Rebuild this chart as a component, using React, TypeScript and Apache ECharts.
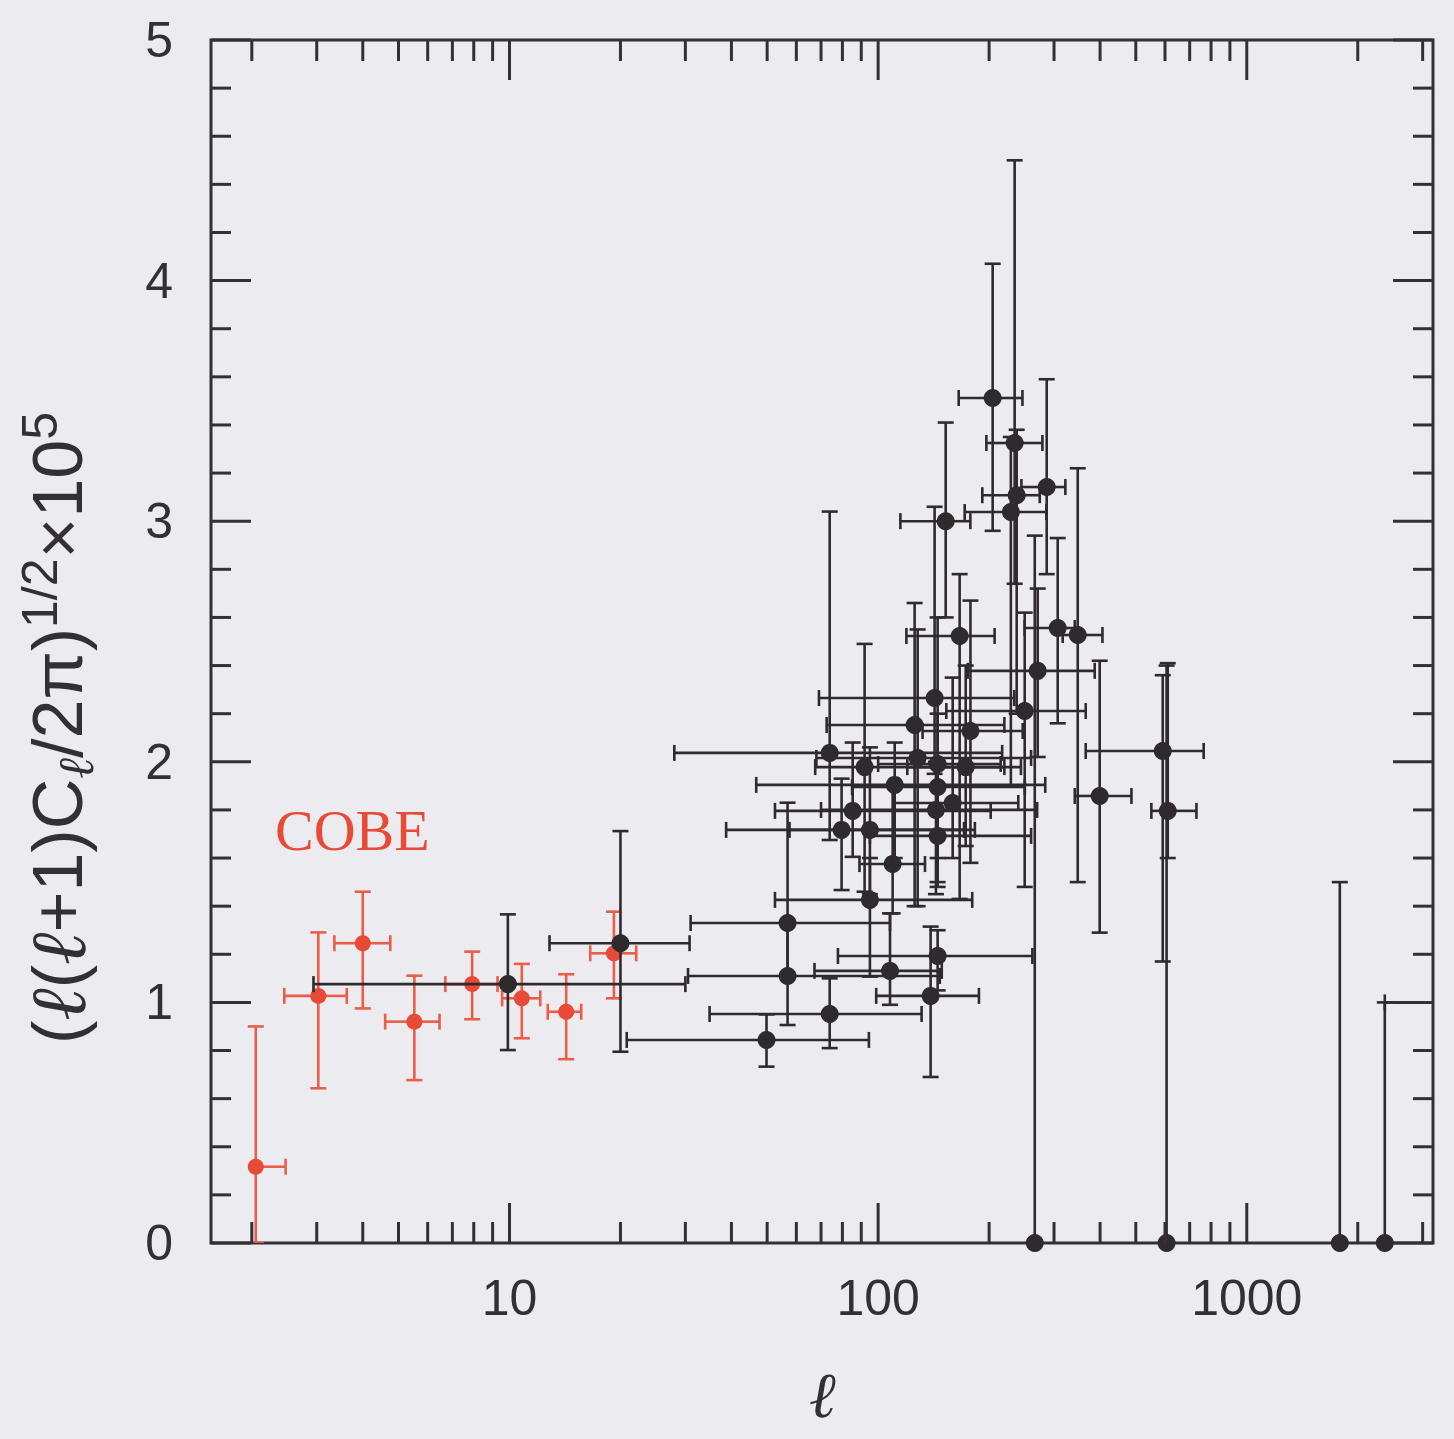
import React, { useEffect, useRef } from 'react';
import * as echarts from 'echarts';

const BG = '#ecebf0';
const INK = '#333033';
const RED = '#e84a38';
const RED_BAR = '#ea5e48';
const BLACK = '#2e2a2e';

const X_MIN = 1.55;
const X_MAX = 3200;
const Y_MIN = 0;
const Y_MAX = 5;

const xTickMajor = [10, 100, 1000];
const xTickMinor = [2, 3, 4, 5, 6, 7, 8, 9, 20, 30, 40, 50, 60, 70, 80, 90, 200, 300, 400, 500, 600, 700, 800, 900, 2000, 3000];
const yTickMajor = [0, 1, 2, 3, 4, 5];
const yTickMinor = [0.2, 0.4, 0.6, 0.8, 1.2, 1.4, 1.6, 1.8, 2.2, 2.4, 2.6, 2.8, 3.2, 3.4, 3.6, 3.8, 4.2, 4.4, 4.6, 4.8];

// [l, value, lLow, lHigh, valueLow, valueHigh]
const cobeData: (number | null)[][] = [
  [2.05, 0.317, null, 2.47, 0.0, 0.9],
  [3.03, 1.027, 2.45, 3.62, 0.643, 1.291],
  [4.0, 1.246, 3.35, 4.75, 0.975, 1.46],
  [5.52, 0.92, 4.6, 6.46, 0.677, 1.111],
  [7.92, 1.076, 6.7, 9.28, 0.93, 1.211],
  [10.8, 1.017, 9.55, 12.12, 0.851, 1.16],
  [14.25, 0.961, 12.7, 15.65, 0.764, 1.117],
  [19.2, 1.204, 16.56, 22.07, 1.017, 1.377],
];

const otherData: (number | null)[][] = [
  [9.9, 1.076, 2.94, 30.0, 0.802, 1.366],
  [20.0, 1.246, 12.84, 30.8, 0.795, 1.712],
  [49.8, 0.844, 20.8, 94.4, 0.733, 0.95],
  [73.9, 0.952, 34.9, 131.2, 0.81, 1.1],
  [56.8, 1.11, 30.5, 147, 0.906, 1.33],
  [56.8, 1.33, 31.0, 107.7, 1.11, 1.83],
  [95.0, 1.426, 52.5, 180, 1.107, 1.6],
  [107.7, 1.131, 67.2, 148.8, 0.99, 1.37],
  [109.5, 1.575, 89, 134, 1.37, 1.9],
  [138.8, 1.027, 98.8, 187.7, 0.69, 1.315],
  [145, 1.193, 77.8, 262, 1.05, 1.3],
  [73.9, 2.037, 28.0, 217, 1.675, 3.04],
  [91.9, 1.978, 67.5, 244, 1.46, 2.49],
  [85.3, 1.796, 52.5, 202, 1.605, 2.08],
  [79.6, 1.717, 38.7, 171, 1.467, 1.93],
  [95.0, 1.717, 57.5, 183, 1.45, 2.06],
  [110.9, 1.904, 46.7, 284, 1.6, 2.08],
  [125.6, 2.153, 72.5, 220, 1.4, 2.66],
  [128, 2.016, 68, 260, 1.4, 2.55],
  [142.3, 2.265, 69.1, 234, 1.95, 3.06],
  [145, 1.991, 100, 215, 1.5, 2.6],
  [145, 1.895, 85, 250, 1.6, 2.2],
  [143.5, 1.8, 70, 270, 1.45, 2.0],
  [145, 1.692, 95, 260, 1.48, 1.9],
  [159.3, 1.829, 110, 240, 1.6, 2.35],
  [166.4, 2.523, 119.3, 207, 1.43, 2.78],
  [178, 2.128, 132, 246.7, 1.58, 2.67],
  [172.8, 1.978, 120, 220, 1.65, 2.4],
  [152.5, 3.0, 114.9, 177.9, 2.6, 3.41],
  [204.5, 3.512, 165.4, 246.3, 2.96, 4.07],
  [234.6, 3.325, 196.6, 279, 2.74, 4.5],
  [286.6, 3.142, 244.7, 322, 2.78, 3.59],
  [237.6, 3.108, 191.7, 274.4, 2.2, 3.38],
  [229.1, 3.038, 171.7, 286, 1.9, 3.35],
  [307, 2.556, 249.8, 341.5, 2.16, 2.93],
  [347.9, 2.527, 316.7, 406, 1.5, 3.22],
  [270.9, 2.378, 175, 386.8, 2.02, 2.72],
  [249.8, 2.211, 153.1, 365.7, 1.48, 2.62],
  [399, 1.858, 341.5, 486.6, 1.29, 2.42],
  [591.6, 2.045, 365.7, 764, 1.17, 2.36],
  [610.4, 1.796, 551, 730.3, 1.6, 2.41],
  [266, 0, null, null, null, 2.94],
  [606, 0, null, null, null, 2.4],
  [1788, 0, null, null, null, 1.5],
  [2368, 0, null, null, null, 1.0],
];

// bar of a point lying beyond the right edge of the plot
const offPlotData: (number | null)[][] = [[5000, 1.0, 2368, null, null, null]];

const makeBarRender = (rows: (number | null)[][], color: string) => (params: any, api: any) => {
  const d = rows[params.dataIndex];
  const [l, v, lLo, lHi, vLo, vHi] = d as any[];
  const cap = 8;
  const style = { stroke: color, lineWidth: 2.6 };
  const c = api.coord([l, v]);
  const children: any[] = [];
  const ln = (x1: number, y1: number, x2: number, y2: number) => ({
    type: 'line',
    shape: { x1, y1, x2, y2 },
    style,
  });
  if (lLo != null) {
    const p = api.coord([lLo, v]);
    children.push(ln(p[0], c[1], c[0], c[1]), ln(p[0], c[1] - cap, p[0], c[1] + cap));
  }
  if (lHi != null) {
    const p = api.coord([lHi, v]);
    children.push(ln(c[0], c[1], p[0], c[1]), ln(p[0], c[1] - cap, p[0], c[1] + cap));
  }
  if (vLo != null) {
    const p = api.coord([l, vLo]);
    children.push(ln(c[0], c[1], c[0], p[1]), ln(c[0] - cap, p[1], c[0] + cap, p[1]));
  }
  if (vHi != null) {
    const p = api.coord([l, vHi]);
    children.push(ln(c[0], p[1], c[0], c[1]), ln(c[0] - cap, p[1], c[0] + cap, p[1]));
  }
  return { type: 'group', children };
};

const tickStyle = { stroke: INK, lineWidth: 3 };

const xTickData = [
  ...xTickMajor.map((v) => [v, 0, 1]),
  ...xTickMinor.map((v) => [v, 0, 0]),
];
const yTickData = [
  ...yTickMajor.map((v) => [10, v, 1]),
  ...yTickMinor.map((v) => [10, v, 0]),
];

const renderXTick = (params: any, api: any) => {
  const cs = params.coordSys;
  const x = api.coord([api.value(0), 0])[0];
  const len = api.value(2) ? 40 : 21;
  const bottom = cs.y + cs.height;
  return {
    type: 'group',
    children: [
      { type: 'line', shape: { x1: x, y1: bottom, x2: x, y2: bottom - len }, style: tickStyle },
      { type: 'line', shape: { x1: x, y1: cs.y, x2: x, y2: cs.y + len }, style: tickStyle },
    ],
  };
};

const renderYTick = (params: any, api: any) => {
  const cs = params.coordSys;
  const y = api.coord([10, api.value(1)])[1];
  const len = api.value(2) ? 40 : 20;
  const right = cs.x + cs.width;
  return {
    type: 'group',
    children: [
      { type: 'line', shape: { x1: cs.x, y1: y, x2: cs.x + len, y2: y }, style: tickStyle },
      { type: 'line', shape: { x1: right - len, y1: y, x2: right, y2: y }, style: tickStyle },
    ],
  };
};

const FONT = '"Liberation Sans", Arial, sans-serif';
const ELL_FONT = '"DejaVu Serif", serif';

export default function App() {
  const ref = useRef<HTMLDivElement>(null);
  useEffect(() => {
    document.body.style.margin = '0';
    document.body.style.background = BG;
    const chart = echarts.init(ref.current!, null, { renderer: 'svg' });
    const option: any = {
      animation: false,
      backgroundColor: BG,
      grid: {
        left: 211,
        top: 40,
        right: 21,
        bottom: 196,
        show: true,
        borderColor: INK,
        borderWidth: 3,
        backgroundColor: 'transparent',
        containLabel: false,
        outerBoundsMode: 'none',
      },
      xAxis: {
        type: 'log',
        logBase: 10,
        min: X_MIN,
        max: X_MAX,
        name: 'ℓ',
        nameLocation: 'middle',
        nameGap: 120,
        nameTextStyle: {
          fontSize: 64,
          fontStyle: 'italic',
          fontFamily: ELL_FONT,
          color: INK,
        },
        axisLine: { show: false },
        axisTick: { show: false },
        splitLine: { show: false },
        minorTick: { show: false },
        axisLabel: {
          margin: 30,
          fontSize: 50,
          fontFamily: FONT,
          color: INK,
          showMinLabel: false,
          showMaxLabel: false,
          formatter: (val: number) => {
            const lg = Math.log10(val);
            return Math.abs(lg - Math.round(lg)) < 1e-6 ? String(Math.round(val)) : '';
          },
        },
      },
      yAxis: {
        type: 'value',
        min: Y_MIN,
        max: Y_MAX,
        interval: 1,
        axisLine: { show: false },
        axisTick: { show: false },
        splitLine: { show: false },
        axisLabel: {
          margin: 38,
          fontSize: 50,
          fontFamily: FONT,
          color: INK,
        },
      },
      graphic: [
        {
          type: 'text',
          x: 275,
          y: 830,
          style: {
            text: 'COBE',
            fontSize: 58,
            fontFamily: '"Liberation Serif", serif',
            fill: RED,
            align: 'left',
            verticalAlign: 'middle',
          },
        },
        {
          type: 'text',
          x: 58,
          y: 728,
          rotation: Math.PI / 2,
          style: {
            text: '({l|ℓ}({l|ℓ}+1)C{sub|ℓ}/2π){sup|1/2}×10{sup|5}',
            fontSize: 70,
            fontFamily: FONT,
            fill: INK,
            align: 'center',
            verticalAlign: 'middle',
            lineHeight: 86,
            rich: {
              l: {
                fontSize: 78,
                fontFamily: ELL_FONT,
                fontStyle: 'italic',
                fill: INK,
                lineHeight: 86,
              },
              sub: {
                fontSize: 50,
                fontFamily: ELL_FONT,
                fontStyle: 'italic',
                fill: INK,
                lineHeight: 48,
                verticalAlign: 'bottom',
              },
              sup: {
                fontSize: 50,
                fontFamily: FONT,
                fill: INK,
                lineHeight: 48,
                verticalAlign: 'top',
              },
            },
          },
        },
      ],
      series: [
        {
          type: 'custom',
          name: 'COBE bars',
          coordinateSystem: 'cartesian2d',
          data: cobeData.map((r) => [r[0], r[1]]),
          encode: { x: 0, y: 1 },
          renderItem: makeBarRender(cobeData, RED_BAR),
          clip: true,
          silent: true,
          z: 2,
        },
        {
          type: 'scatter',
          name: 'COBE',
          data: cobeData.map((r) => [r[0], r[1]]),
          symbol: 'circle',
          symbolSize: 16,
          itemStyle: { color: RED, opacity: 1 },
          clip: false,
          z: 3,
        },
        {
          type: 'custom',
          name: 'Other bars',
          coordinateSystem: 'cartesian2d',
          data: otherData.map((r) => [r[0], r[1]]),
          encode: { x: 0, y: 1 },
          renderItem: makeBarRender(otherData, BLACK),
          clip: true,
          silent: true,
          z: 4,
        },
        {
          type: 'custom',
          name: 'Off-plot bar',
          coordinateSystem: 'cartesian2d',
          data: offPlotData.map((r) => [r[0], r[1]]),
          encode: { x: 0, y: 1 },
          renderItem: makeBarRender(offPlotData, BLACK),
          clip: true,
          silent: true,
          z: 4,
        },
        {
          type: 'scatter',
          name: 'Other experiments',
          data: otherData.map((r) => [r[0], r[1]]),
          symbol: 'circle',
          symbolSize: 18,
          itemStyle: { color: BLACK, opacity: 1 },
          clip: false,
          z: 5,
        },
        {
          type: 'custom',
          name: 'x ticks',
          coordinateSystem: 'cartesian2d',
          data: xTickData,
          encode: { x: 0, y: 1 },
          renderItem: renderXTick,
          silent: true,
          z: 10,
        },
        {
          type: 'custom',
          name: 'y ticks',
          coordinateSystem: 'cartesian2d',
          data: yTickData,
          encode: { x: 0, y: 1 },
          renderItem: renderYTick,
          silent: true,
          z: 10,
        },
      ],
    };
    chart.setOption(option);
    return () => chart.dispose();
  }, []);
  return <div ref={ref} style={{ width: 1454, height: 1439, background: BG }} />;
}
